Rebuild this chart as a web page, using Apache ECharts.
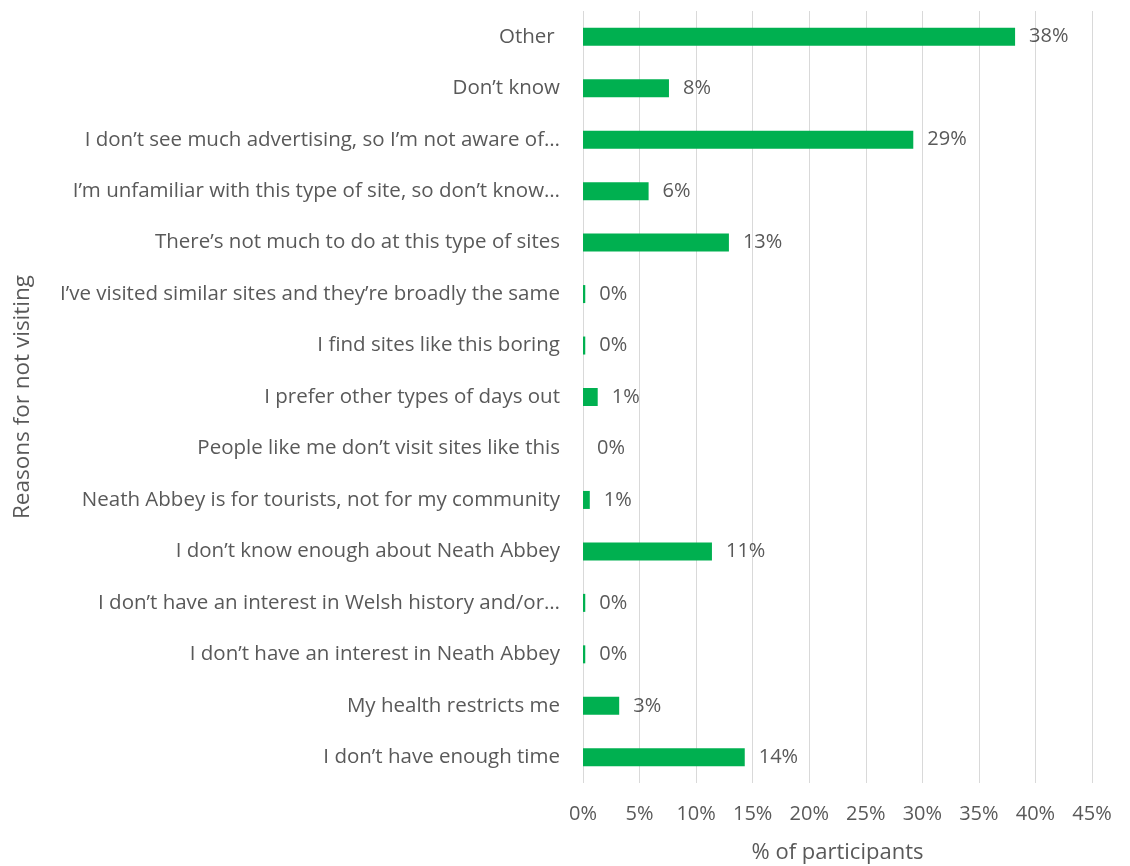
<!DOCTYPE html>
<html>
<head>
<meta charset="utf-8">
<script src="https://cdn.jsdelivr.net/npm/echarts@6/dist/echarts.min.js"></script>
<style>
  html, body { margin: 0; padding: 0; background: #ffffff; }
  #chart { width: 1130px; height: 866px; }
</style>
</head>
<body>
<div id="chart"></div>
<script>
// Reasons listed bottom-to-top (the category axis draws the first item at the bottom)
const reasons = [
  "I don\u2019t have enough time",
  "My health restricts me",
  "I don\u2019t have an interest in Neath Abbey",
  "I don\u2019t have an interest in Welsh history and/or\u2026",
  "I don\u2019t know enough about Neath Abbey",
  "Neath Abbey is for tourists, not for my community",
  "People like me don\u2019t visit sites like this",
  "I prefer other types of days out",
  "I find sites like this boring",
  "I\u2019ve visited similar sites and they\u2019re broadly the same",
  "There\u2019s not much to do at this type of sites",
  "I\u2019m unfamiliar with this type of site, so don\u2019t know\u2026",
  "I don\u2019t see much advertising, so I\u2019m not aware of\u2026",
  "Don\u2019t know",
  "Other "
];

// Share of participants (%) for each reason, same order as above
const shares = [14.3, 3.2, 0.2, 0.2, 11.4, 0.6, 0, 1.3, 0.2, 0.2, 12.9, 5.8, 29.2, 7.6, 38.2];

// Value axis ticks
const axisMin = 0;
const axisMax = 45;
const axisStep = 5;

const textColor = '#595959';
const font = 'Open Sans';

const chart = echarts.init(document.getElementById('chart'), null, { renderer: 'canvas' });

chart.setOption({
  animation: false,
  backgroundColor: '#ffffff',
  grid: { left: 583, right: 38, top: 11, bottom: 83, containLabel: false, outerBoundsMode: 'none' },
  xAxis: {
    type: 'value',
    min: axisMin,
    max: axisMax,
    interval: axisStep,
    name: '% of participants',
    nameLocation: 'middle',
    nameGap: 59,
    nameTextStyle: { color: textColor, fontSize: 22, fontFamily: font },
    axisLine: { show: false },
    axisTick: { show: false },
    axisLabel: { color: textColor, fontSize: 20, fontFamily: font, margin: 21, formatter: '{value}%' },
    splitLine: { show: true, lineStyle: { color: '#d9d9d9', width: 1 } }
  },
  yAxis: {
    type: 'category',
    data: reasons,
    name: 'Reasons for not visiting',
    nameLocation: 'middle',
    nameRotate: 90,
    nameGap: 549,
    nameTextStyle: { color: textColor, fontSize: 22.5, fontFamily: font },
    axisLine: { show: false },
    axisTick: { show: false },
    axisLabel: { color: textColor, fontSize: 20.5, fontFamily: font, margin: 23 },
    splitLine: { show: false }
  },
  series: [{
    type: 'bar',
    data: shares,
    barWidth: 18,
    itemStyle: { color: '#00b050' },
    label: {
      show: true,
      position: 'right',
      distance: 14,
      color: textColor,
      fontSize: 20,
      fontFamily: font,
      formatter: p => Math.round(p.value) + '%'
    }
  }]
});
</script>
</body>
</html>
